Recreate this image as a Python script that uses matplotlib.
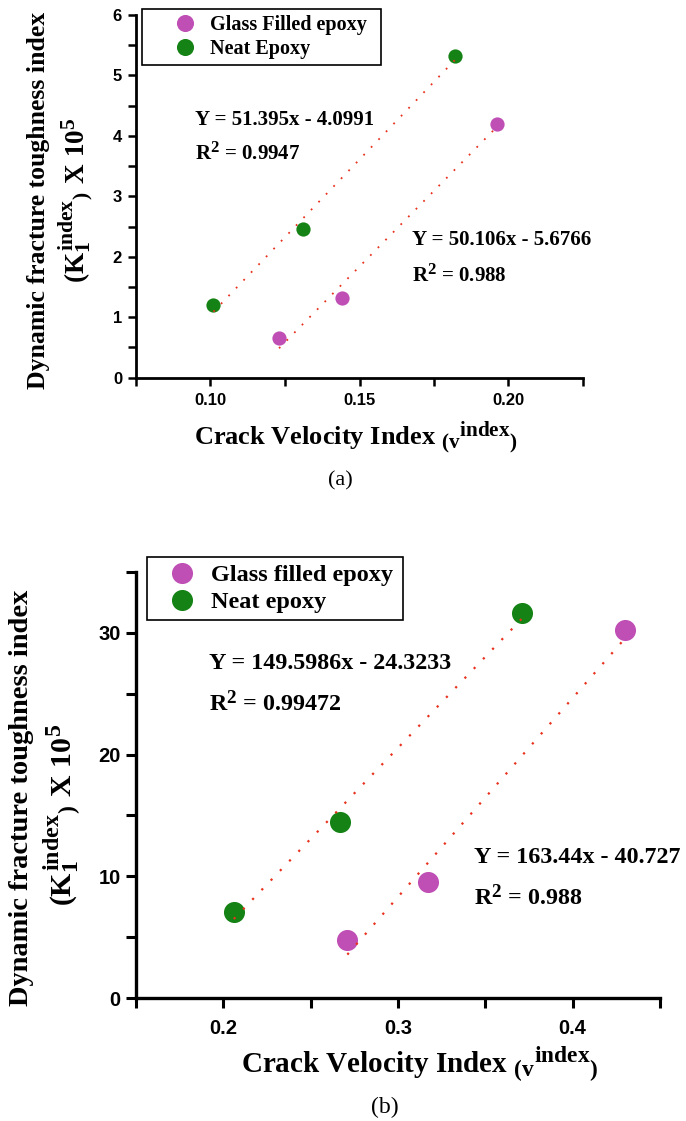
import numpy as np
import matplotlib
matplotlib.use('Agg')
import matplotlib.pyplot as plt
from matplotlib.ticker import MultipleLocator, FormatStrFormatter
try:
    import matplotlib._mathtext as _mt
    _mt.SHRINK_FACTOR = 0.8
except Exception:
    pass

plt.rcParams['font.family'] = ['Liberation Sans', 'DejaVu Sans']
plt.rcParams['font.weight'] = 'bold'
plt.rcParams['mathtext.fontset'] = 'custom'
plt.rcParams['mathtext.rm'] = 'Liberation Serif:bold'
plt.rcParams['mathtext.it'] = 'Liberation Serif:bold'
plt.rcParams['mathtext.bf'] = 'Liberation Serif:bold'

# ---------------- data: panel (a) ----------------
a_glass_x = [0.123, 0.144, 0.196]
a_glass_y = [0.66, 1.32, 4.20]
a_neat_x = [0.101, 0.131, 0.182]
a_neat_y = [1.20, 2.46, 5.33]
a_glass_fit = (50.106, -5.6766)
a_neat_fit = (51.395, -4.0991)
a_labels = ['Glass Filled epoxy', 'Neat Epoxy']
a_neat_eq = ['Y = 51.395x - 4.0991', r'R$^{2}$ = 0.9947']
a_glass_eq = ['Y = 50.106x - 5.6766', r'R$^{2}$ = 0.988']

# ---------------- data: panel (b) ----------------
b_glass_x = [0.271, 0.317, 0.430]
b_glass_y = [4.8, 9.5, 30.2]
b_neat_x = [0.206, 0.267, 0.371]
b_neat_y = [7.1, 14.5, 31.6]
b_glass_fit = (163.44, -40.727)
b_neat_fit = (149.5986, -24.3233)
b_labels = ['Glass filled epoxy', 'Neat epoxy']
b_neat_eq = ['Y = 149.5986x - 24.3233', r'R$^{2}$ = 0.99472']
b_glass_eq = ['Y = 163.44x - 40.727', r'R$^{2}$ = 0.988']

MAGENTA = '#BF4EB5'
GREEN = '#148214'
RED = '#E8321E'
SERIF = 'Liberation Serif'

W, H = 686, 1121
fig = plt.figure(figsize=(W / 100, H / 100), dpi=100)

def fx(px):
    return px / W

def fy(py):
    return 1 - py / H

def fitline(ax, xs, fit, lw, dashes):
    xs = np.array([min(xs), max(xs)])
    ys = fit[0] * xs + fit[1]
    ax.plot(xs, ys, color=RED, lw=lw, dashes=dashes, zorder=3)

def style_axes(ax, lw, ticklen, tickw, labelsize, xpad, ypad):
    ax.spines['top'].set_visible(False)
    ax.spines['right'].set_visible(False)
    for s in ['left', 'bottom']:
        ax.spines[s].set_linewidth(lw)
    ax.tick_params(which='both', direction='out', length=ticklen, width=tickw,
                   labelsize=labelsize)
    ax.tick_params(axis='x', which='both', pad=xpad)
    ax.tick_params(axis='y', which='both', pad=ypad)

# ================= panel (a) =================
ax1 = fig.add_axes([fx(136), fy(377.7), (583 - 136) / W, (377.7 - 15) / H])
ax1.set_xlim(0.075, 0.225)
ax1.set_ylim(0, 6)
ax1.xaxis.set_major_locator(MultipleLocator(0.05))
ax1.xaxis.set_minor_locator(MultipleLocator(0.025))
ax1.xaxis.set_major_formatter(FormatStrFormatter('%.2f'))
ax1.yaxis.set_major_locator(MultipleLocator(1))
ax1.yaxis.set_minor_locator(MultipleLocator(0.5))
style_axes(ax1, 2.0, 6, 1.8, 12, 5, 4)

ax1.scatter(a_glass_x, a_glass_y, s=105, color=MAGENTA, label=a_labels[0], zorder=2, linewidths=0)
ax1.scatter(a_neat_x, a_neat_y, s=105, color=GREEN, label=a_labels[1], zorder=2, linewidths=0)
fitline(ax1, a_glass_x, a_glass_fit, 1.3, (1, 5))
fitline(ax1, a_neat_x, a_neat_fit, 1.3, (1, 5))

eqkw = dict(family=SERIF, weight='bold', va='baseline', ha='left')
ax1.text(0.0947, 4.18, a_neat_eq[0], fontsize=15, **eqkw)
ax1.text(0.0947, 3.60, a_neat_eq[1], fontsize=15, **eqkw)
ax1.text(0.1676, 2.19, a_glass_eq[0], fontsize=15, **eqkw)
ax1.text(0.1676, 1.59, a_glass_eq[1], fontsize=15, **eqkw)

leg1 = ax1.legend(loc='upper left', bbox_to_anchor=(fx(142), fy(67), (381 - 142) / W, 58 / H),
                  bbox_transform=fig.transFigure, mode='expand', borderaxespad=0,
                  prop={'family': SERIF, 'weight': 'bold', 'size': 14.5},
                  fancybox=False, framealpha=1, edgecolor='black', markerscale=1.2,
                  handlelength=3.7, handletextpad=-0.6, borderpad=0.3,
                  labelspacing=0.2, scatterpoints=1, scatteryoffsets=[0.5])
leg1.get_frame().set_linewidth(1.2)

fig.text(fx(356), fy(444), r'Crack Velocity Index $_{(v}{}^{index}{}_{)}$',
         family=SERIF, weight='bold', fontsize=19, ha='center', va='baseline')
fig.text(fx(39), fy(200), 'Dynamic fracture toughness index', family=SERIF,
         weight='bold', fontsize=18.5, rotation=90, ha='center', va='center')
fig.text(fx(76), fy(200), r'$(K_{1}^{index}{}_{)}\ X\ 10^{5}$', fontsize=19.5,
         rotation=90, ha='center', va='center')
fig.text(fx(340), fy(485), '(a)', family=SERIF, weight='normal', fontsize=16,
         ha='center', va='baseline')

# ================= panel (b) =================
ax2 = fig.add_axes([fx(136), fy(998), (660 - 136) / W, (998 - 572) / H])
ax2.set_xlim(0.15, 0.45)
ax2.set_ylim(0, 35)
ax2.xaxis.set_major_locator(MultipleLocator(0.1))
ax2.xaxis.set_minor_locator(MultipleLocator(0.05))
ax2.xaxis.set_major_formatter(FormatStrFormatter('%.1f'))
ax2.yaxis.set_major_locator(MultipleLocator(10))
ax2.yaxis.set_minor_locator(MultipleLocator(5))
style_axes(ax2, 2.4, 7, 2.2, 14.5, 8, 4)

ax2.scatter(b_glass_x, b_glass_y, s=230, color=MAGENTA, label=b_labels[0], zorder=2, linewidths=0)
ax2.scatter(b_neat_x, b_neat_y, s=230, color=GREEN, label=b_labels[1], zorder=2, linewidths=0)
fitline(ax2, b_glass_x, b_glass_fit, 1.6, (1, 5))
fitline(ax2, b_neat_x, b_neat_fit, 1.6, (1, 5))

ax2.text(0.192, 27.0, b_neat_eq[0], fontsize=17.3, **eqkw)
ax2.text(0.192, 23.6, b_neat_eq[1], fontsize=17.3, **eqkw)
ax2.text(0.3433, 11.1, b_glass_eq[0], fontsize=17.3, **eqkw)
ax2.text(0.3433, 7.6, b_glass_eq[1], fontsize=17.3, **eqkw)

leg2 = ax2.legend(loc='upper left', bbox_to_anchor=(fx(147), fy(621), (403 - 147) / W, 64 / H),
                  bbox_transform=fig.transFigure, mode='expand', borderaxespad=0,
                  prop={'family': SERIF, 'weight': 'bold', 'size': 17.5},
                  fancybox=False, framealpha=1, edgecolor='black',
                  handlelength=2.3, handletextpad=0.05, borderpad=0.3,
                  labelspacing=0.2, scatterpoints=1, scatteryoffsets=[0.5])
leg2.get_frame().set_linewidth(1.2)

fig.text(fx(420), fy(1073), r'Crack Velocity Index $_{(v}{}^{index}{}_{)}$',
         family=SERIF, weight='bold', fontsize=21, ha='center', va='baseline')
fig.text(fx(22), fy(798), 'Dynamic fracture toughness index', family=SERIF,
         weight='bold', fontsize=20.5, rotation=90, ha='center', va='center')
fig.text(fx(62), fy(815), r'$(K_{1}^{index}{}_{)}\ X\ 10^{5}$', fontsize=21.5,
         rotation=90, ha='center', va='center')
fig.text(fx(385), fy(1113), '(b)', family=SERIF, weight='normal', fontsize=17,
         ha='center', va='baseline')

fig.savefig('out.png', dpi=100)
